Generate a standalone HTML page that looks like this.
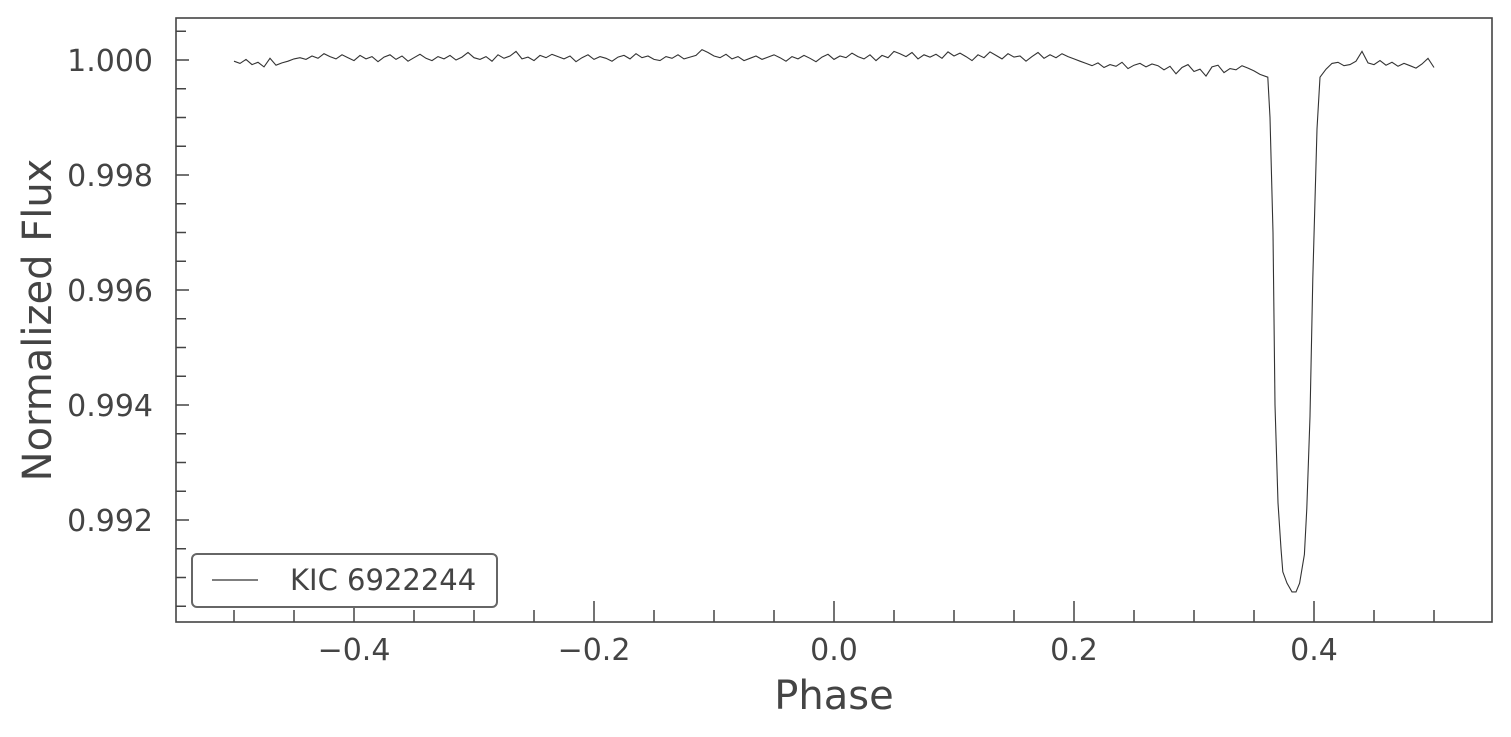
<!DOCTYPE html>
<html><head><meta charset="utf-8"><style>
body{margin:0;background:#fff;}
svg{display:block;font-family:"DejaVu Sans","Liberation Sans",sans-serif;}
</style></head><body>
<svg id="chart" width="1511" height="737" viewBox="0 0 1511 737" xmlns="http://www.w3.org/2000/svg">
<rect x="0" y="0" width="1511" height="737" fill="#fff"/>
<g id="ticks"></g>
<path id="curve" fill="none" stroke="#333" stroke-width="1.1"/>
<rect x="176" y="18" width="1316" height="604" fill="none" stroke="#444" stroke-width="1.6"/>
<text x="834" y="709" font-size="40" fill="#444" text-anchor="middle">Phase</text>
<text transform="translate(51,320) rotate(-90)" font-size="40" fill="#444" text-anchor="middle">Normalized Flux</text>
<g>
<rect x="192" y="554" width="305" height="53" rx="5" fill="#fff" stroke="#666" stroke-width="2"/>
<line x1="212" y1="580" x2="258" y2="580" stroke="#333" stroke-width="1.2"/>
<text x="290" y="590" font-size="29" fill="#444">KIC 6922244</text>
</g>
</svg>
<script>
const baseStart=-0.5, baseStep=0.005;
const baseDev=[-20,-60,10,-80,-40,-120,30,-90,-50,-20,20,
40,10,70,30,110,60,20,90,40,-10,80,20,60,-30,50,90,10,70,-20,40,100,30,-10,60,20,80,0,50,130,40,
10,60,-20,90,30,70,150,20,50,-10,80,40,100,60,20,70,-30,40,90,10,60,30,-20,50,80,20,110,40,70,10,-10,60,30,90,20,50,80,180,130,70,
40,100,20,60,-10,30,70,10,50,90,40,-20,60,20,80,30,-30,50,100,10,70,40,120,60,20,90,-10,80,40,150,110,60,130,20,90,50,100,30,140,70,
120,60,-10,90,40,140,80,20,110,50,70,-20,60,130,30,90,40,110,60,20,
-20,-60,-100,-50,-130,-80,-110,-40,-150,-90,-60,-120,-70,-100,-170,-110,-240,-130,-80,-200,-160,-280,-120,-90,-220,-150,-170,-100,-140,-190,-250,
0,0,0,0,0,0,0,0,0,
-20,-160,-60,-40,-100,-80,-20,150,-50,-80,-10,-90,-40,-110,-60,-100,-140,-70,30,-130];
const eclPhase=[0.3615,0.3633,0.3658,0.3675,0.370,0.3725,0.374,0.3775,0.3817,0.385,0.388,0.392,0.394,0.3967,0.399,0.4025,0.405];
const eclDev=[-300,-1000,-3000,-6000,-7700,-8500,-8900,-9100,-9250,-9250,-9100,-8600,-7800,-6200,-3800,-1200,-300];
const xTicks=[-0.4,-0.2,0.0,0.2,0.4];
const xTickLabels=["\u22120.4","\u22120.2","0.0","0.2","0.4"];
const yTicks=[1.000,0.998,0.996,0.994,0.992];
const yTickLabels=["1.000","0.998","0.996","0.994","0.992"];

const sx=p=>834+p*1200;
const sy=f=>60+(1-f)*57500;
const NS="http://www.w3.org/2000/svg";
let pts=[];
baseDev.forEach((d,i)=>{const p=baseStart+i*baseStep; if(p>0.358&&p<0.407)return; pts.push([p,1+d*1e-6]);});
eclPhase.forEach((p,i)=>pts.push([p,1+eclDev[i]*1e-6]));
pts.sort((a,b)=>a[0]-b[0]);
document.getElementById('curve').setAttribute('d',pts.map((q,i)=>(i?'L':'M')+sx(q[0]).toFixed(1)+' '+sy(q[1]).toFixed(1)).join(''));
const g=document.getElementById('ticks');
function line(x1,y1,x2,y2,name){const l=document.createElementNS(NS,'line');
l.setAttribute('x1',x1);l.setAttribute('y1',y1);l.setAttribute('x2',x2);l.setAttribute('y2',y2);
l.setAttribute('stroke','#444');l.setAttribute('stroke-width','1.5');


g.appendChild(l);}
function text(x,y,s,anchor,name){const t=document.createElementNS(NS,'text');
t.setAttribute('x',x);t.setAttribute('y',y);t.setAttribute('font-size','30');t.setAttribute('fill','#444');t.setAttribute('text-anchor',anchor);
t.textContent=s;


g.appendChild(t);}
for(let k=-11;k<=11;k++){const p=k*0.05;const x=sx(p);if(x<176||x>1492)continue;
 const major=(k%4===0);line(x,622,x,major?601:610,'x-tick');}
xTicks.forEach((p,i)=>text(sx(p),660,xTickLabels[i],'middle','x-tick-label'));
for(let k=0;k<=22;k++){const f=1.0005-k*0.0005;const y=sy(f);if(y<18||y>622)continue;
 const major=(Math.round(f*10000)%20===0);line(176,y,major?189:186,y,'y-tick');}
yTicks.forEach((f,i)=>text(153,sy(f)+11,yTickLabels[i],'end','y-tick-label'));
</script>
</body></html>
